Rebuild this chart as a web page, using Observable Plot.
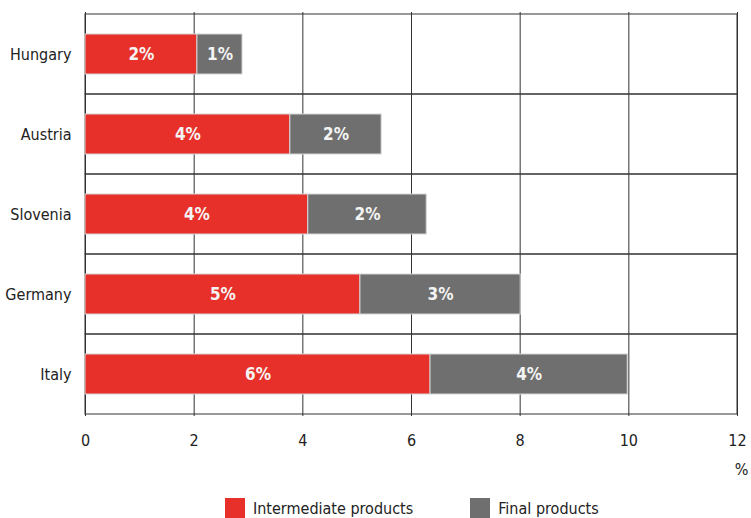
<!DOCTYPE html>
<html>
<head>
<meta charset="utf-8">
<script src="https://cdn.jsdelivr.net/npm/d3@7"></script>
<script src="https://cdn.jsdelivr.net/npm/@observablehq/plot@0.6"></script>
<style>
  body { margin: 0; background: #fff; font-family: "DejaVu Sans Condensed", "Liberation Sans Narrow", sans-serif; }
  #legend { display: flex; justify-content: flex-start; align-items: center; gap: 57px; height: 28px; padding-top: 4px; padding-left: 225px; font-size: 16px; color: #222; }
  #legend span.item { display: flex; align-items: center; gap: 8px; }
  #legend span.sw { width: 20px; height: 20px; display: inline-block; }
</style>
</head>
<body>
<div id="chart"></div>
<div id="legend"></div>
<script>
const countries = ["Hungary", "Austria", "Slovenia", "Germany", "Italy"];
const intermediate = [2.06, 3.77, 4.10, 5.06, 6.35];
const finalProducts = [0.83, 1.68, 2.18, 2.95, 3.63];
const intermediateLabels = ["2%", "4%", "4%", "5%", "6%"];
const finalLabels = ["1%", "2%", "2%", "3%", "4%"];
const seriesNames = ["Intermediate products", "Final products"];
const seriesColors = ["#e8302a", "#6f6f6f"];
const xTicks = [0, 2, 4, 6, 8, 10, 12];

const table = [];
countries.forEach((c, i) => {
  table.push({country: c, series: seriesNames[0], value: intermediate[i], label: intermediateLabels[i]});
  table.push({country: c, series: seriesNames[1], value: finalProducts[i], label: finalLabels[i]});
});

const font = "DejaVu Sans Condensed, Liberation Sans Narrow, sans-serif";

const plot = Plot.plot({
  width: 751,
  height: 490,
  marginLeft: 85,
  marginRight: 14,
  marginTop: 12,
  marginBottom: 74,
  style: {fontFamily: font, fontSize: "16px", color: "#222", background: "#fff"},
  x: {domain: [0, 12], ticks: xTicks, tickSize: 0, tickPadding: 18, label: null},
  y: {domain: countries, padding: 0, tickSize: 0, tickPadding: 14, label: null},
  color: {domain: seriesNames, range: seriesColors},
  marks: [
    Plot.gridX(xTicks, {stroke: "#333", strokeOpacity: 1, strokeWidth: 1}),
    Plot.cell(countries, {y: d => d, fill: "none", stroke: "#333", strokeWidth: 1}),
    Plot.barX(table, Plot.stackX({x: "value", y: "country", z: "series", fill: "series", order: seriesNames, insetTop: 20, insetBottom: 20, stroke: "#d6d6d6", strokeWidth: 1})),
    Plot.text(table, Plot.stackX({x: "value", y: "country", z: "series", text: "label", order: seriesNames, fill: "#f4f4f4", fontSize: 17, fontWeight: "bold"})),
    Plot.text(["%"], {frameAnchor: "bottom-right", dy: 58, dx: 4, textAnchor: "middle", fontSize: 16, fill: "#222"})
  ]
});
document.getElementById("chart").appendChild(plot);

const legend = document.getElementById("legend");
seriesNames.forEach((s, i) => {
  const item = document.createElement("span");
  item.className = "item";
  const sw = document.createElement("span");
  sw.className = "sw";
  sw.style.background = seriesColors[i];
  const t = document.createElement("span");
  t.textContent = s;
  item.appendChild(sw);
  item.appendChild(t);
  legend.appendChild(item);
});
</script>
</body>
</html>
